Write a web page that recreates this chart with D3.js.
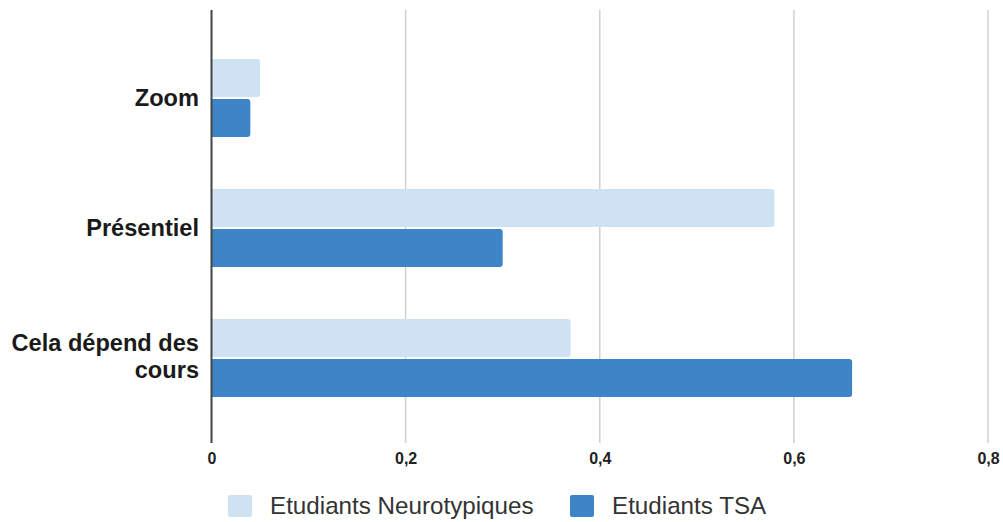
<!DOCTYPE html>
<html>
<head>
<meta charset="utf-8">
<script src="https://cdn.jsdelivr.net/npm/d3@7"></script>
<style>
  html, body { margin: 0; padding: 0; background: #fff; }
  svg { display: block; font-family: "Liberation Sans", Arial, sans-serif; }
</style>
</head>
<body>
<svg id="chart" width="1003" height="522"></svg>
<script>
// Preferred lesson format, share of respondents per student group
const categories = ["Zoom", "Présentiel", "Cela dépend des cours"];
const seriesNames = ["Etudiants Neurotypiques", "Etudiants TSA"];
const neurotypiques = [0.05, 0.58, 0.37];
const tsa = [0.04, 0.30, 0.66];
const tickValues = [0, 0.2, 0.4, 0.6, 0.8];
const tickLabels = ["0", "0,2", "0,4", "0,6", "0,8"];
const colors = ["#cfe2f3", "#3d85c6"];

const seriesValues = [neurotypiques, tsa];
const rows = categories.map((c, i) => ({
  category: c,
  values: seriesNames.map((s, j) => ({ key: s, index: j, value: seriesValues[j][i] }))
}));

const svg = d3.select("#chart");
const plotTop = 10, plotBottom = 443;

const x = d3.scaleLinear().domain([0, 0.8]).range([211.5, 988]);
const y = d3.scaleBand().domain(categories).range([33, 423])
  .paddingInner(0.4).paddingOuter(0.2);
const ySub = d3.scaleBand().domain(seriesNames).range([0, y.bandwidth()])
  .paddingInner(0.05);

// vertical gridlines
svg.append("g").selectAll("line")
  .data(tickValues.filter(v => v > 0))
  .join("line")
  .attr("x1", d => x(d)).attr("x2", d => x(d))
  .attr("y1", plotTop).attr("y2", plotBottom)
  .attr("stroke", "#d0d0d0").attr("stroke-width", 1.5);

// bars with rounded right ends
function barPath(x0, x1, y0, h, r) {
  r = Math.min(r, (x1 - x0) / 2, h / 2);
  return `M${x0},${y0}H${x1 - r}Q${x1},${y0} ${x1},${y0 + r}` +
         `V${y0 + h - r}Q${x1},${y0 + h} ${x1 - r},${y0 + h}H${x0}Z`;
}

const groups = svg.append("g").selectAll("g")
  .data(rows).join("g")
  .attr("transform", d => `translate(0,${y(d.category)})`);

groups.selectAll("path")
  .data(d => d.values).join("path")
  .attr("d", d => barPath(x(0), x(d.value), ySub(d.key), ySub.bandwidth(), 3))
  .attr("fill", d => colors[d.index]);

// baseline axis
svg.append("line")
  .attr("x1", x(0)).attr("x2", x(0))
  .attr("y1", plotTop).attr("y2", plotBottom)
  .attr("stroke", "#444").attr("stroke-width", 2);

// x tick labels
const xAxis = d3.axisBottom(x).tickValues(tickValues)
  .tickFormat((d, i) => tickLabels[i]).tickSize(0).tickPadding(0);
const gx = svg.append("g").attr("transform", `translate(0,${plotBottom + 10})`).call(xAxis);
gx.select(".domain").remove();
gx.selectAll("text")
  .attr("font-family", "'Liberation Sans', Arial, sans-serif")
  .attr("font-size", 16).attr("font-weight", "bold").attr("fill", "#222");

// category labels, wrapped onto two lines when long
const labelLines = { "Cela dépend des cours": ["Cela dépend des", "cours"] };
const lineH = 27;
svg.append("g").selectAll("text")
  .data(categories).join("text")
  .attr("text-anchor", "end")
  .attr("font-size", 23.6).attr("font-weight", "bold").attr("fill", "#1a1a1a")
  .each(function (c) {
    const lines = labelLines[c] || [c];
    const cy = y(c) + y.bandwidth() / 2;
    const first = cy - (lines.length - 1) * (lineH / 2 + 2);
    d3.select(this).selectAll("tspan").data(lines).join("tspan")
      .attr("x", 199)
      .attr("y", (l, i) => first + i * lineH)
      .attr("dy", "0.35em")
      .text(l => l);
  });

// legend
const legendX = [228, 570];
const legend = svg.append("g").selectAll("g")
  .data(seriesNames).join("g")
  .attr("transform", (d, i) => `translate(${legendX[i]},495)`);
legend.append("rect")
  .attr("width", 24).attr("height", 22).attr("rx", 2)
  .attr("fill", (d, i) => colors[i]);
legend.append("text")
  .attr("x", 42).attr("y", 11).attr("dy", "0.35em")
  .attr("font-size", 24.2).attr("fill", "#333")
  .text(d => d);
</script>
</body>
</html>
